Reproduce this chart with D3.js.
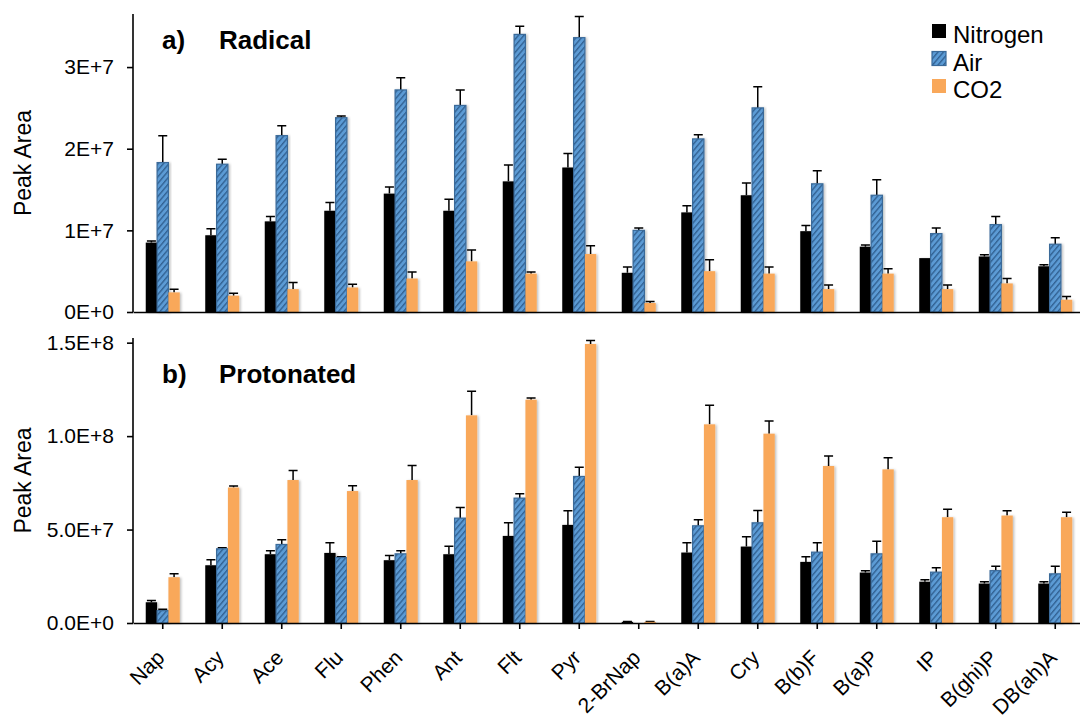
<!doctype html>
<html>

<head>
    <title>PAH peak areas</title>
    <script src="https://d3js.org/d3.v7.min.js"></script>
    <style>
        body {
            margin: 0;
            background: #fff;
        }

        svg text {
            font-family: "Liberation Sans", Arial, Helvetica, sans-serif;
        }

        .axis path,
        .axis line {
            stroke: #000;
            stroke-width: 1.6px;
        }

        .axis text {
            font-size: 21px;
            fill: #000;
        }
    </style>
</head>

<body>
    <svg width="1080" height="721"></svg>
    <script>

        var categories = ["Nap", "Acy", "Ace", "Flu", "Phen", "Ant", "Flt", "Pyr", "2-BrNap",
            "B(a)A", "Cry", "B(b)F", "B(a)P", "IP", "B(ghi)P", "DB(ah)A"];
        var series = ["Nitrogen", "Air", "CO2"];

        // a) radical ions
        var radicalNitrogen = [8.5e6, 9.4e6, 1.11e7, 1.24e7, 1.45e7, 1.24e7, 1.60e7, 1.77e7, 4.8e6,
            1.22e7, 1.43e7, 9.9e6, 8.0e6, 6.6e6, 6.8e6, 5.6e6];
        var radicalNitrogenErr = [2e5, 8e5, 6e5, 1.0e6, 8e5, 1.4e6, 2.0e6, 1.7e6, 7e5,
            8e5, 1.5e6, 7e5, 2e5, 0, 2e5, 2e5];
        var radicalAir = [1.83e7, 1.81e7, 2.16e7, 2.38e7, 2.72e7, 2.53e7, 3.40e7, 3.36e7, 1.00e7,
            2.12e7, 2.50e7, 1.57e7, 1.43e7, 9.6e6, 1.07e7, 8.3e6];
        var radicalAirErr = [3.3e6, 6e5, 1.2e6, 2e5, 1.5e6, 1.9e6, 1.0e6, 2.6e6, 3e5,
            5e5, 2.6e6, 1.6e6, 1.9e6, 7e5, 1.0e6, 8e5];
        var radicalCO2 = [2.4e6, 2.0e6, 2.8e6, 3.0e6, 4.1e6, 6.2e6, 4.7e6, 7.1e6, 1.1e6,
            5.0e6, 4.7e6, 2.8e6, 4.7e6, 2.8e6, 3.5e6, 1.5e6];
        var radicalCO2Err = [4e5, 3e5, 8e5, 4e5, 8e5, 1.4e6, 2e5, 1.0e6, 2e5,
            1.4e6, 8e5, 5e5, 6e5, 5e5, 6e5, 4e5];

        // b) protonated ions
        var protonNitrogen = [1.11e7, 3.09e7, 3.68e7, 3.75e7, 3.36e7, 3.68e7, 4.66e7, 5.25e7, 6e5,
            3.77e7, 4.09e7, 3.27e7, 2.70e7, 2.21e7, 2.11e7, 2.11e7];
        var protonNitrogenErr = [9e5, 2.9e6, 1.9e6, 5.4e6, 2.5e6, 4.3e6, 7.0e6, 7.5e6, 2e5,
            5.2e6, 5.2e6, 2.7e6, 1.0e6, 1.1e6, 1.0e6, 1.0e6];
        var protonAir = [6.6e6, 3.97e7, 4.20e7, 3.50e7, 3.70e7, 5.61e7, 6.68e7, 7.84e7, 0,
            5.20e7, 5.36e7, 3.79e7, 3.70e7, 2.72e7, 2.80e7, 2.63e7];
        var protonAirErr = [7e5, 5e5, 2.5e6, 5e5, 1.7e6, 5.7e6, 2.3e6, 5.0e6, 0,
            3.2e6, 6.6e6, 5.0e6, 6.8e6, 2.4e6, 2.4e6, 4.1e6];
        var protonCO2 = [2.45e7, 7.25e7, 7.65e7, 7.06e7, 7.65e7, 1.111e8, 1.195e8, 1.493e8, 6e5,
            1.063e8, 1.013e8, 8.40e7, 8.22e7, 5.66e7, 5.75e7, 5.66e7];
        var protonCO2Err = [1.8e6, 8e5, 5.1e6, 2.8e6, 7.8e6, 1.29e7, 9e5, 1.8e6, 2e5,
            1.02e7, 6.8e6, 5.3e6, 6.2e6, 4.3e6, 2.5e6, 2.7e6];

        var radicalTicks = [0, 1e7, 2e7, 3e7];
        var protonTicks = [0, 5e7, 1e8, 1.5e8];

        var svg = d3.select("svg");

        // hatch pattern + soft shadow
        var defs = svg.append("defs");
        var pat = defs.append("pattern")
            .attr("id", "hatch")
            .attr("patternUnits", "userSpaceOnUse")
            .attr("width", 4.2)
            .attr("height", 4.2)
            .attr("patternTransform", "rotate(40)");
        pat.append("rect").attr("width", 4.2).attr("height", 4.2).attr("fill", "#5b9bd5");
        pat.append("line")
            .attr("x1", 0.7).attr("y1", 0).attr("x2", 0.7).attr("y2", 4.2)
            .attr("stroke", "#2f5d8e").attr("stroke-width", 1.3);

        var shadow = defs.append("filter").attr("id", "shadow")
            .attr("x", "-30%").attr("y", "-10%").attr("width", "160%").attr("height", "120%");
        shadow.append("feDropShadow")
            .attr("dx", 1.5).attr("dy", 0.5).attr("stdDeviation", 0.8)
            .attr("flood-color", "#000").attr("flood-opacity", 0.25);

        var fills = { Nitrogen: "#000000", Air: "url(#hatch)", CO2: "#f9a85a" };
        var strokes = { Nitrogen: "none", Air: "#3a6a99", CO2: "none" };

        var left = 133, right = 1085;

        var x = d3.scaleBand().domain(categories).range([left, right]).padding(0);
        var xs = d3.scaleBand().domain(series).range([-17, 17]).padding(0);

        function sci(digits) {
            return function (d) { return d.toExponential(digits).toUpperCase(); };
        }

        function panel(opts) {
            var y = d3.scaleLinear().domain(opts.domain).range([opts.bottom, opts.top]);
            var g = svg.append("g");

            var rows = categories.map(function (c, i) {
                return {
                    cat: c,
                    vals: series.map(function (s, j) {
                        return { s: s, v: opts.values[j][i], e: opts.errors[j][i] };
                    })
                };
            });

            var groups = g.selectAll(".grp")
                .data(rows)
                .enter()
                .append("g")
                .attr("transform", function (d) { return "translate(" + (x(d.cat) + x.bandwidth() / 2) + ",0)"; });

            // error bars (up only)
            groups.selectAll(".err")
                .data(function (d) { return d.vals.filter(function (v) { return v.e > 0; }); })
                .enter()
                .append("path")
                .attr("fill", "none")
                .attr("stroke", "#000")
                .attr("stroke-width", 1.5)
                .attr("d", function (d) {
                    var cx = xs(d.s) + xs.bandwidth() / 2;
                    var y0 = y(d.v), y1 = y(d.v + d.e);
                    return "M" + cx + "," + y0 + "V" + y1 + "M" + (cx - 4.5) + "," + y1 + "H" + (cx + 4.5);
                });

            groups.selectAll(".bar")
                .data(function (d) { return d.vals.filter(function (v) { return v.v > 0; }); })
                .enter()
                .append("rect")
                .attr("x", function (d) { return xs(d.s); })
                .attr("y", function (d) { return y(d.v); })
                .attr("width", xs.bandwidth())
                .attr("height", function (d) { return y(0) - y(d.v); })
                .attr("fill", function (d) { return fills[d.s]; })
                .attr("stroke", function (d) { return strokes[d.s]; })
                .attr("stroke-width", 1.2)
                .attr("filter", "url(#shadow)");

            // axes
            g.append("g")
                .attr("class", "axis")
                .attr("transform", "translate(" + left + ",0)")
                .call(d3.axisLeft(y).tickValues(opts.ticks).tickFormat(sci(opts.digits))
                    .tickSizeInner(6).tickSizeOuter(0).tickPadding(13))
                .select(".domain").attr("d", "M0," + opts.bottom + "V" + opts.top);

            var xa = g.append("g")
                .attr("class", "axis")
                .attr("transform", "translate(0," + opts.bottom + ")")
                .call(d3.axisBottom(x).tickSizeInner(opts.xTicks ? 6 : 0).tickSizeOuter(0).tickFormat(""));
            xa.selectAll(".tick text").remove();

            g.append("text")
                .attr("transform", "translate(23," + ((opts.top + opts.bottom) / 2) + ") rotate(-90)")
                .attr("text-anchor", "middle")
                .attr("dy", "0.35em")
                .attr("font-size", "23px")
                .text("Peak Area");

            g.append("text")
                .attr("x", 162).attr("y", opts.titleY)
                .attr("font-size", "26px").attr("font-weight", "bold")
                .text(opts.letter);
            g.append("text")
                .attr("x", 219).attr("y", opts.titleY)
                .attr("font-size", "26px").attr("font-weight", "bold")
                .text(opts.title);

            return g;
        }

        panel({
            domain: [0, 3.65e7], top: 14, bottom: 312,
            values: [radicalNitrogen, radicalAir, radicalCO2],
            errors: [radicalNitrogenErr, radicalAirErr, radicalCO2Err],
            ticks: radicalTicks, digits: 0, xTicks: false,
            letter: "a)", title: "Radical", titleY: 49
        });

        panel({
            domain: [0, 1.525e8], top: 338, bottom: 623,
            values: [protonNitrogen, protonAir, protonCO2],
            errors: [protonNitrogenErr, protonAirErr, protonCO2Err],
            ticks: protonTicks, digits: 1, xTicks: true,
            letter: "b)", title: "Protonated", titleY: 383
        });

        // category labels, rotated
        svg.append("g").selectAll(".xl")
            .data(categories)
            .enter()
            .append("text")
            .attr("transform", function (d) {
                return "translate(" + (x(d) + x.bandwidth() / 2 + 3) + ",659) rotate(-45)";
            })
            .attr("text-anchor", "end")
            .attr("font-size", "21px")
            .text(function (d) { return d; });

        // legend
        var legend = svg.append("g").attr("transform", "translate(932,24)");
        var li = legend.selectAll(".li")
            .data(series)
            .enter()
            .append("g")
            .attr("transform", function (d, i) { return "translate(0," + (i * 27.5) + ")"; });
        li.append("rect")
            .attr("width", 14).attr("height", 14)
            .attr("fill", function (d) { return fills[d]; })
            .attr("stroke", function (d) { return strokes[d]; })
            .attr("stroke-width", 1.2);
        li.append("text")
            .attr("x", 21).attr("y", 19)
            .attr("font-size", "24px")
            .text(function (d) { return d; });

    </script>
</body>

</html>
